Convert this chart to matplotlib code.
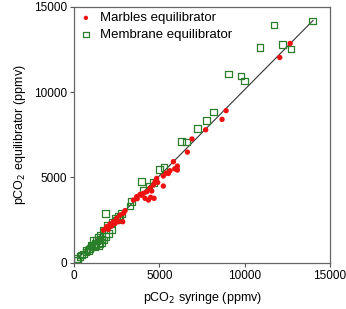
import matplotlib
matplotlib.use("Agg")
import matplotlib.pyplot as plt
import numpy as np

plt.rcParams['font.family'] = ['Liberation Sans', 'DejaVu Sans']

marbles_x = [12660, 12050, 8910, 8670, 7710, 6910, 6640, 5820, 6050, 6020, 6050, 5620, 5530,
             5230, 5230, 4840, 4750, 4650, 4450, 4260, 4060, 3870, 3670, 3480, 4160, 4690,
             4490, 4360, 2990, 2850, 2700, 2500, 2300, 2110, 1910, 1720, 2600, 2400, 5900, 5400,
             4900, 4550, 3950, 3700, 2900, 2200, 2000]
marbles_y = [12850, 12030, 8910, 8400, 7790, 7250, 6480, 5920, 5660, 5530, 5430, 5390, 5230,
             5080, 4490, 4940, 4750, 4550, 4360, 4160, 4060, 4000, 3870, 3670, 3770, 3770,
             3830, 3670, 3050, 2400, 2790, 2600, 2400, 2270, 2110, 1910, 2400, 2300, 5500, 5250,
             4700, 4200, 3950, 3750, 2900, 2150, 1950]

membrane_x = [13965, 11720, 10900, 12210, 12700, 9040, 9770, 9980, 8160, 7770, 7230, 6310, 6600,
              5000, 5270, 3950, 4650, 4390, 4060, 3380, 3280, 1840, 2790, 2600, 2400, 1950,
              2210, 1720, 1520, 1430, 1330, 1230, 1130, 1040, 840, 700, 550, 350, 160, 200,
              450, 1520, 1430, 1720, 1620, 1230, 1130, 940, 740, 1880, 2010, 2210,
              1300, 1000, 900, 1600, 2500, 2700]
membrane_y = [14180, 13930, 12620, 12790, 12540, 11050, 10940, 10660, 8830, 8320, 7870, 7110, 7070,
              5470, 5590, 4750, 4690, 4450, 4260, 3570, 3320, 2870, 2890, 2730, 2600, 2210,
              2340, 1910, 1620, 1480, 1290, 1130, 1040, 940, 700, 630, 510, 350, 250, 160,
              450, 1130, 980, 1330, 1170, 940, 1290, 840, 740, 1520, 1720, 1910,
              1050, 1000, 800, 1400, 2500, 2650]

fit_x = [200, 14000]
fit_slope = 1.012
fit_intercept = 30

fig = plt.figure(figsize=(3.46, 3.09), dpi=100)
ax = fig.add_axes([0.214, 0.150, 0.740, 0.828])

fx = np.array(fit_x)
ax.plot(fx, fit_slope * fx + fit_intercept, color='#333333', lw=0.8, zorder=1)
ax.scatter(marbles_x, marbles_y, s=15, color='#ee1111', edgecolors='none', zorder=3,
           label='Marbles equilibrator')
ax.scatter(membrane_x, membrane_y, s=22, marker='s', facecolors='none',
           edgecolors='#2a7f2a', linewidths=0.9, zorder=2, label='Membrane equilibrator')

ax.set_xlim(0, 15000)
ax.set_ylim(0, 15000)
ax.set_xticks([0, 5000, 10000, 15000])
ax.set_yticks([0, 5000, 10000, 15000])
ax.tick_params(labelsize=8.5, length=3, width=0.8, color='#555555', pad=2)
for s in ax.spines.values():
    s.set_color('#666666')
    s.set_linewidth(0.9)

ax.set_xlabel('pCO$_2$ syringe (ppmv)', fontsize=9, labelpad=6)
ax.set_ylabel('pCO$_2$ equilibrator (ppmv)', fontsize=9, labelpad=4)

ax.legend(loc='upper left', frameon=False, fontsize=9.5, handletextpad=0.6,
          borderaxespad=0.1, borderpad=0.3, labelspacing=0.35, handlelength=1.0,
          markerscale=0.8, bbox_to_anchor=(0.0, 1.0))

fig.savefig('out.png', dpi=100)
